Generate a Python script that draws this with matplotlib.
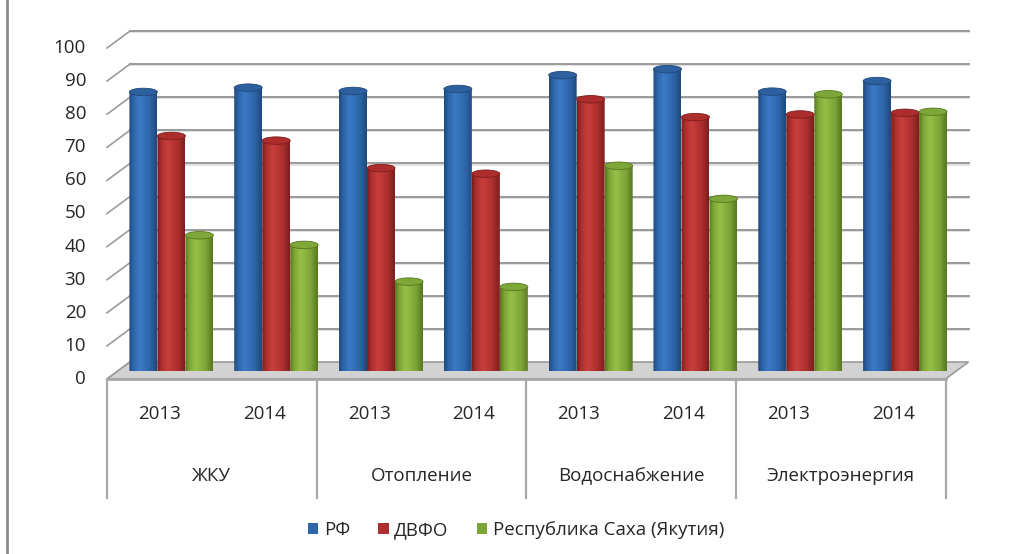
import numpy as np
import matplotlib
matplotlib.use("Agg")
import matplotlib.pyplot as plt
from matplotlib.colors import LinearSegmentedColormap
from matplotlib.patches import Ellipse, PathPatch, Polygon, Patch
from matplotlib.path import Path
from matplotlib.lines import Line2D

plt.rcParams['font.family'] = ['Open Sans', 'DejaVu Sans']

# data
categories = ["ЖКУ", "Отопление", "Водоснабжение", "Электроэнергия"]
years = ["2013", "2014"]
series_names = ["РФ", "ДВФО", "Республика Саха (Якутия)"]
rf = [84.3, 85.6, 84.6, 85.2, 89.4, 91.2, 84.4, 87.6]
dvfo = [71.0, 69.6, 61.3, 59.6, 82.1, 76.7, 77.5, 78.0]
sakha = [41.0, 38.1, 27.0, 25.4, 62.0, 52.0, 83.6, 78.3]
yticks = list(range(0, 101, 10))

# colours: (edge dark, mid, highlight, cap)
palette = [
    ("#1f4879", "#2d65a8", "#3b7ac6", "#2d609f"),
    ("#7c1d1d", "#ab2f2e", "#c83f3b", "#ad2d2c"),
    ("#57761f", "#7ca437", "#95c147", "#7ea739"),
]
text_c = "#262626"
fs = 13.5

W, H = 1015, 554
fig = plt.figure(figsize=(W / 100, H / 100), dpi=100)
# axes box = plane in which the cylinders stand (pixels measured on the reference)
x0_px, x1_px, y0_px, y1_px = 119, 957.5, 371, 40
ax = fig.add_axes((x0_px / W, 1 - y0_px / H, (x1_px - x0_px) / W, (y0_px - y1_px) / H))
ax.axis("off")

nslots = len(rf)
ux = (x1_px - x0_px) / nslots          # px per slot
uy = (y0_px - y1_px) / 100.0           # px per unit
bx, by = 11 / ux, 9 / uy               # back wall shift
fx, fy = -12 / ux, -8 / uy             # front edge shift

grid_c = "#9a9a9a"
shadow_c = "#dcdcdc"
# back wall grid + left side ticks
for v in yticks:
    if v > 0:
        ax.plot([-0.5 + bx, nslots - 0.5 + bx], [v + by - 1.2 / uy] * 2, color=shadow_c, lw=1.2, zorder=0.9, clip_on=False)
        ax.plot([-0.5 + bx, nslots - 0.5 + bx], [v + by, v + by], color=grid_c, lw=1.4, zorder=1, clip_on=False)
    ax.plot([-0.5 + fx, -0.5 + bx], [v + fy, v + by], color=grid_c, lw=1.2, zorder=1, clip_on=False)
    ax.text(-0.5 + fx - 21 / ux, v + fy, str(v), ha="right", va="center", fontsize=fs, color=text_c)

# floor
floor = Polygon([(-0.5 + fx, fy), (nslots - 0.5 + fx, fy), (nslots - 0.5 + bx, by), (-0.5 + bx, by)],
                closed=True, facecolor="#d2d2d2", edgecolor=grid_c, lw=1.2, zorder=1.5, clip_on=False)
ax.add_patch(floor)
ax.plot([-0.5 + fx, nslots - 0.5 + fx], [fy, fy], color="#a8a8a8", lw=2, zorder=1.6, clip_on=False)

# cylinders
bw = 28 / ux
eh = 7.5 / uy
grad = np.linspace(0, 1, 128)[None, :]
for s, vals in enumerate([rf, dvfo, sakha]):
    dark, mid, light, cap = palette[s]
    cmap = LinearSegmentedColormap.from_list(
        "c%d" % s, [(0, dark), (0.15, mid), (0.38, light), (0.75, mid), (1, dark)])
    for i, v in enumerate(vals):
        xc = i + (s - 1) * bw
        th = np.linspace(np.pi, 2 * np.pi, 40)
        verts = [(xc + bw / 2 * np.cos(t), eh / 2 * np.sin(t)) for t in th]
        verts += [(xc + bw / 2, v), (xc - bw / 2, v), verts[0]]
        clip = PathPatch(Path(verts), transform=ax.transData)
        im = ax.imshow(grad, cmap=cmap, aspect="auto", extent=(xc - bw / 2, xc + bw / 2, -eh, v),
                       zorder=3 + 0.01 * s, interpolation="bilinear")
        im.set_clip_path(clip)
        ax.add_patch(Ellipse((xc, v), bw, eh, facecolor=cap, edgecolor=dark, lw=0.6,
                             zorder=3.005 + 0.01 * s, clip_on=False))

ax.set_xlim(-0.5, nslots - 0.5)
ax.set_ylim(0, 100)

# category table below the floor
ybot = (y0_px - 498) / uy
for k in range(len(categories) + 1):
    xx = -0.5 + fx + 2 * k
    ax.plot([xx, xx], [fy, ybot], color="#a8a8a8", lw=1.6, zorder=1, clip_on=False)
for i in range(nslots):
    ax.text(i + fx, (y0_px - 414) / uy, years[i % 2], ha="center", va="center", fontsize=fs, color=text_c)
for k, c in enumerate(categories):
    ax.text(2 * k + 0.5 + fx, (y0_px - 476) / uy, c, ha="center", va="center", fontsize=fs, color=text_c)

# left frame line
fig.add_artist(Line2D([7 / W, 7 / W], [0, 1], color="#8c8c8c", lw=2))

handles = [Patch(facecolor=p[1], edgecolor="none") for p in palette]
fig.legend(handles, series_names, loc="center", bbox_to_anchor=(516 / W, 1 - 530 / H), ncol=3,
           frameon=False, fontsize=fs, handlelength=0.55, handleheight=0.55, handletextpad=0.3,
           columnspacing=1.5, labelcolor=text_c)

fig.savefig("out.png", dpi=100)
